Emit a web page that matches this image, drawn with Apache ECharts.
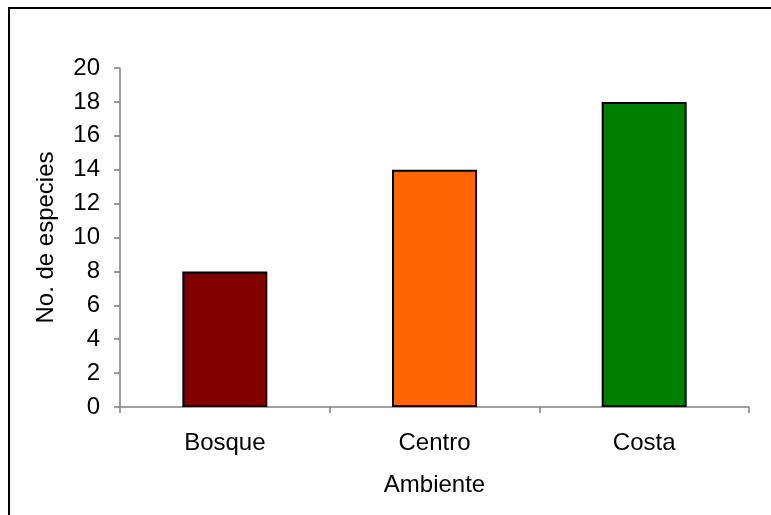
<!DOCTYPE html>
<html>
<head>
<meta charset="utf-8">
<script src="https://cdn.jsdelivr.net/npm/echarts@6/dist/echarts.min.js"></script>
<style>
  html, body { margin: 0; padding: 0; background: #fff; }
  #chart { width: 771px; height: 515px; }
</style>
</head>
<body>
<div id="chart"></div>
<script>
// Number of species per environment
const categories = ['Bosque', 'Centro', 'Costa'];
const speciesCount = [8, 14, 18];
const barColors = ['#800000', '#FF6600', '#008000'];

const font = '"Liberation Sans", Arial, sans-serif';
const fontSize = 24;

const chart = echarts.init(document.getElementById('chart'), null, { renderer: 'canvas' });

chart.setOption({
  backgroundColor: '#ffffff',
  animation: false,
  graphic: [{
    type: 'rect',
    shape: { x: 9, y: 8, width: 900, height: 700 },
    style: { fill: 'none', stroke: '#000', lineWidth: 2 },
    silent: true
  }],
  grid: { left: 120, top: 68, right: 22, bottom: 108 },
  xAxis: {
    type: 'category',
    data: categories,
    name: 'Ambiente',
    nameLocation: 'middle',
    nameGap: 66,
    nameTextStyle: { color: '#000', fontFamily: font, fontSize: fontSize },
    axisLine: { lineStyle: { color: '#808080', width: 1.5 } },
    axisTick: { show: true, alignWithLabel: false, length: 6, lineStyle: { color: '#808080', width: 1.5 } },
    axisLabel: { color: '#000', fontFamily: font, fontSize: fontSize, margin: 24 }
  },
  yAxis: {
    type: 'value',
    min: 0,
    max: 20,
    interval: 2,
    name: 'No. de especies',
    nameLocation: 'middle',
    nameGap: 62,
    nameTextStyle: { color: '#000', fontFamily: font, fontSize: fontSize },
    axisLine: { show: true, lineStyle: { color: '#808080', width: 1.5 } },
    axisTick: { show: true, length: 6, lineStyle: { color: '#808080', width: 1.5 } },
    axisLabel: { color: '#000', fontFamily: font, fontSize: fontSize, margin: 20 },
    splitLine: { show: false }
  },
  series: [{
    type: 'bar',
    barWidth: 85,
    data: speciesCount.map((v, i) => ({
      value: v,
      itemStyle: { color: barColors[i] }
    })),
    itemStyle: { borderColor: '#000', borderWidth: 2 }
  }]
});
</script>
</body>
</html>
